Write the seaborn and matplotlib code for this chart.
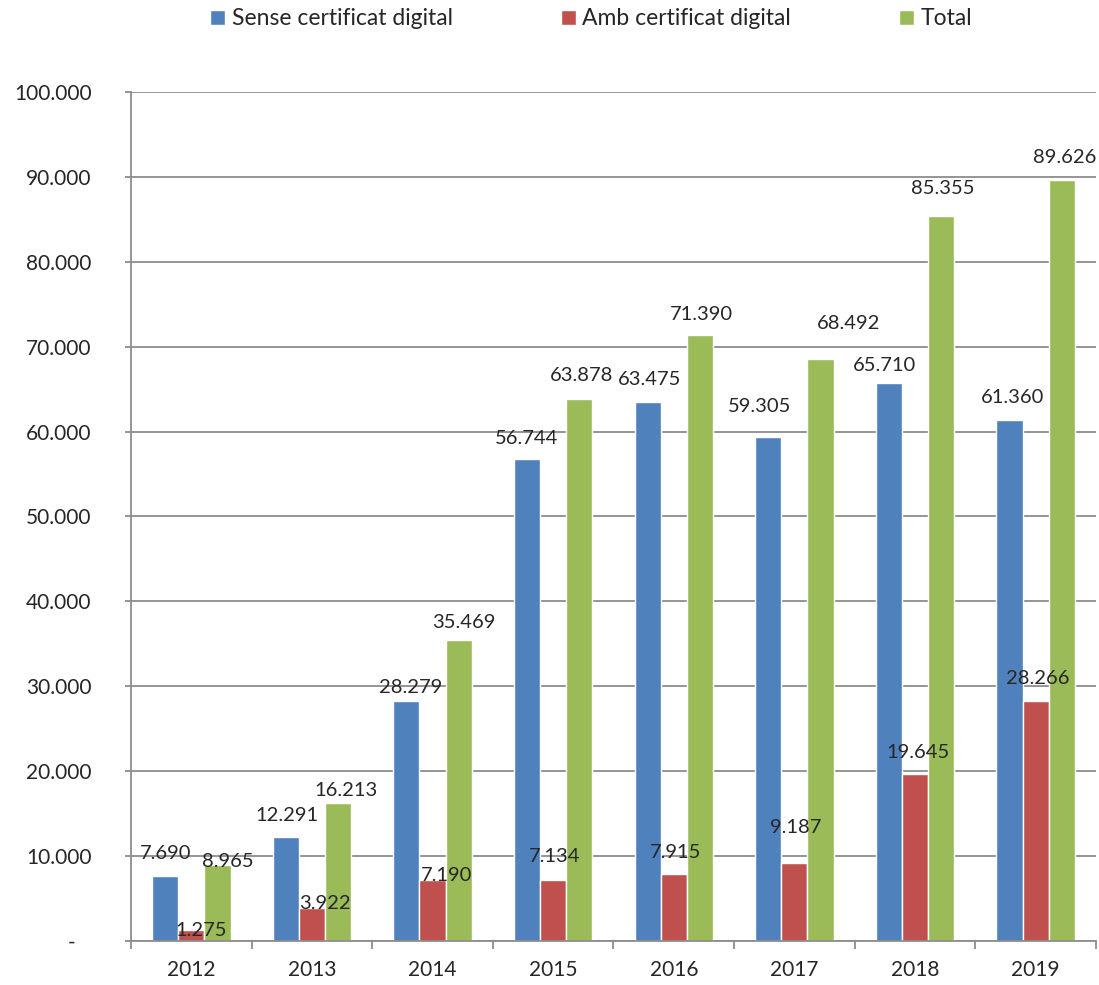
import numpy as np
import pandas as pd
import matplotlib.pyplot as plt
import seaborn as sns

# Data
years = ['2012', '2013', '2014', '2015', '2016', '2017', '2018', '2019']
sense = [7690, 12291, 28279, 56744, 63475, 59305, 65710, 61360]
amb = [1275, 3922, 7190, 7134, 7915, 9187, 19645, 28266]
total = [8965, 16213, 35469, 63878, 71390, 68492, 85355, 89626]
series = ['Sense certificat digital', 'Amb certificat digital', 'Total']
colors = ['#4F81BD', '#C0504D', '#9BBB59']

# where each value label sits, in pixels from the top centre of its bar
sense_offsets = [(0, 24), (1, 23), (4, 15), (0, 22), (2, 24), (-9, 32), (-4, 19), (3, 24)]
amb_offsets = [(10, 1), (13, 6), (14, 6), (1, 25), (2, 23), (1, 37), (3, 23), (2, 24)]
total_offsets = [(10, 5), (8, 14), (5, 19), (2, 25), (2, 22), (28, 37), (2, 29), (3, 24)]

df = pd.DataFrame({
    'Any': years * 3,
    'Serie': [s for s in series for _ in years],
    'Valor': sense + amb + total,
})


def fmt(v):
    return f'{int(round(v)):,}'.replace(',', '.')


sns.set_style('white')
plt.rcParams['font.family'] = ['Lato', 'DejaVu Sans']
grey = '#8c8c8c'

fig = plt.figure(figsize=(10.99, 9.85), dpi=100)
ax = fig.add_axes([0.1192, 0.0447, 0.878, 0.862])

sns.barplot(data=df, x='Any', y='Valor', hue='Serie', hue_order=series,
            palette=colors, width=0.65, saturation=1, errorbar=None, ax=ax)

# --- axes styling ---
ax.set_xlabel('')
ax.set_ylabel('')
ax.set_ylim(0, 100000)
ax.set_yticks(range(0, 100001, 10000))
ax.yaxis.set_major_formatter(plt.FuncFormatter(lambda v, _: '-   ' if v == 0 else fmt(v)))
ax.set_xlim(-0.5, len(years) - 0.5)
ax.set_xticks(np.arange(len(years) + 1) - 0.5, minor=True)

ax.yaxis.grid(True, color=grey, linewidth=1.3)
ax.set_axisbelow(True)
for side in ['top', 'right']:
    ax.spines[side].set_visible(False)
for side in ['left', 'bottom']:
    ax.spines[side].set_color(grey)
    ax.spines[side].set_linewidth(1.3)

ax.tick_params(axis='y', left=True, length=4.5, width=1.3, color=grey, pad=24, labelsize=15)
ax.tick_params(axis='x', which='major', bottom=False, length=0, pad=14, labelsize=15)
ax.tick_params(axis='x', which='minor', bottom=True, length=5.5, width=1.3, color=grey)

# --- value labels ---
for container, offs in zip(ax.containers, [sense_offsets, amb_offsets, total_offsets]):
    for bar, (dx, dy) in zip(container, offs):
        h = bar.get_height()
        ax.annotate(fmt(h), (bar.get_x() + bar.get_width() / 2, h),
                    xytext=(dx, dy), textcoords='offset pixels',
                    ha='center', va='center_baseline', fontsize=14.5)

# --- legend on top ---
handles, labels = ax.get_legend_handles_labels()
ax.get_legend().remove()
fig.legend(handles, labels, loc='center', bbox_to_anchor=(0.538, 0.981), ncol=3,
           frameon=False, fontsize=16.5, handlelength=0.65, handleheight=0.65,
           handletextpad=0.3, columnspacing=4.7)

fig.savefig('out.png', dpi=100)
